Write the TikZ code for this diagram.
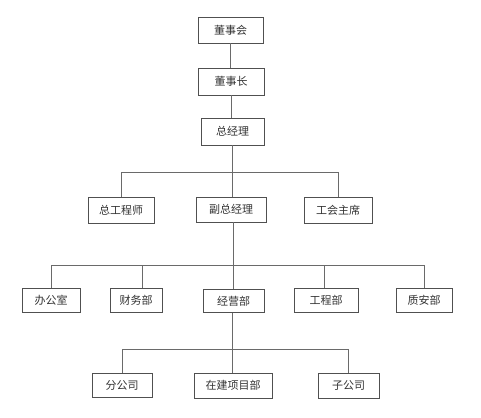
\documentclass[tikz,border=0pt]{standalone}
\usepackage{fontspec}
\newfontfamily\cjk{Noto Sans CJK SC}
\definecolor{boxline}{HTML}{505050}
\definecolor{conline}{HTML}{6A6A6A}
\begin{document}
\begin{tikzpicture}[x=1pt,y=-1pt,
  box/.style={draw=boxline,line width=0.9pt,fill=white,rectangle,inner sep=0pt,font=\cjk\fontsize{11}{13}\selectfont,text=black!80},
  con/.style={draw=conline,line width=0.9pt}]
\useasboundingbox[fill=white] (0,0) rectangle (481,417);
\coordinate (bar1) at (232,172);
\coordinate (bar2) at (232,265);
\coordinate (bar3) at (232,349);
% nodes
\node[box,minimum width=65,minimum height=26] (dsh) at (230.5,30) {董事会};
\node[box,minimum width=66,minimum height=27] (dsz) at (231,81.5) {董事长};
\node[box,minimum width=63,minimum height=27] (zjl) at (232.5,131.5) {总经理};
\node[box,minimum width=66,minimum height=26] (zgcs) at (121,210) {总工程师};
\node[box,minimum width=70,minimum height=25] (fzjl) at (231,209.5) {副总经理};
\node[box,minimum width=68,minimum height=26] (ghzx) at (338,210) {工会主席};
\node[box,minimum width=58,minimum height=24] (bgs) at (51,300) {办公室};
\node[box,minimum width=52,minimum height=24] (cwb) at (136,300) {财务部};
\node[box,minimum width=61,minimum height=23] (jyb) at (233.5,301) {经营部};
\node[box,minimum width=64,minimum height=24] (gcb) at (326,300) {工程部};
\node[box,minimum width=56,minimum height=24] (zab) at (424,300) {质安部};
\node[box,minimum width=60,minimum height=24] (fgs) at (122,385) {分公司};
\node[box,minimum width=78,minimum height=25] (zjxmb) at (233,385.5) {在建项目部};
\node[box,minimum width=61,minimum height=25] (zgs) at (348.5,385.5) {子公司};
% connectors
\draw[con] (dsh.south) -- (dsh.south |- dsz.north);
\draw[con] (dsz.south) -- (dsz.south |- zjl.north);
\draw[con] (zjl.south -| bar1) -- (fzjl.north -| bar1);
\draw[con] (zgcs.north) -- (zgcs.north |- bar1) -- (ghzx.north |- bar1) -- (ghzx.north);
\draw[con] ([xshift=2pt]fzjl.south) -- ([xshift=2pt]fzjl.south |- jyb.north);
\draw[con] (bgs.north) -- (bgs.north |- bar2) -- (zab.north |- bar2) -- (zab.north);
\draw[con] ([xshift=6pt]cwb.north) -- ([xshift=6pt]cwb.north |- bar2);
\draw[con] ([xshift=-2pt]gcb.north) -- ([xshift=-2pt]gcb.north |- bar2);
\draw[con] ([xshift=-1.5pt]jyb.south) -- ([xshift=-1.5pt]jyb.south |- zjxmb.north);
\draw[con] (fgs.north) -- (fgs.north |- bar3) -- (zgs.north |- bar3) -- (zgs.north);
\end{tikzpicture}
\end{document}
